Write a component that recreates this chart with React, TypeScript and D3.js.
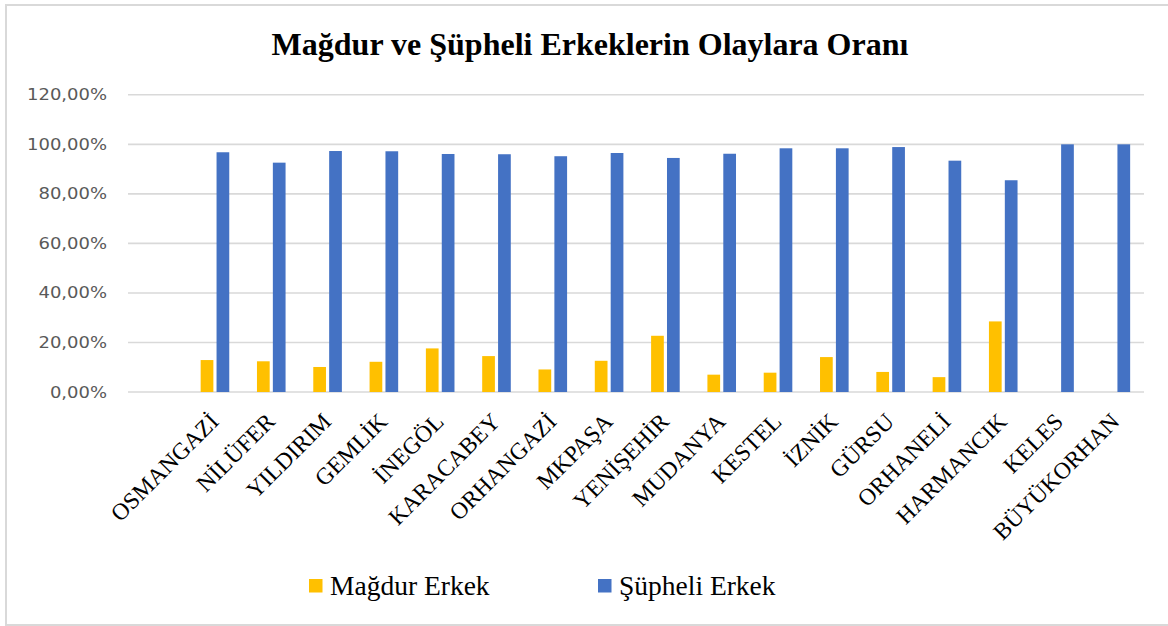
import React, { useEffect, useRef } from "react";
import * as d3 from "d3";

const categories = ["OSMANGAZİ", "NİLÜFER", "YILDIRIM", "GEMLİK", "İNEGÖL", "KARACABEY", "ORHANGAZİ", "MKPAŞA", "YENİŞEHİR", "MUDANYA", "KESTEL", "İZNİK", "GÜRSU", "ORHANELİ", "HARMANCIK", "KELES", "BÜYÜKORHAN"];
const magdurErkek = [12.9, 12.4, 10.1, 12.2, 17.6, 14.5, 9.1, 12.6, 22.7, 7.0, 7.8, 14.1, 8.1, 6.0, 28.5, 0, 0];
const supheliErkek = [96.8, 92.6, 97.3, 97.2, 96.1, 96.0, 95.2, 96.5, 94.5, 96.2, 98.4, 98.4, 98.9, 93.4, 85.5, 100, 100];
const yTicks = [0, 20, 40, 60, 80, 100, 120];
const seriesNames = ["Mağdur Erkek", "Şüpheli Erkek"];
const seriesColors = ["#FFC000", "#4472C4"];
const title = "Mağdur ve Şüpheli Erkeklerin Olaylara Oranı";

export default function App() {
  const ref = useRef<SVGSVGElement>(null);
  useEffect(() => {
    document.body.style.margin = "0";
    const svg = d3.select(ref.current);
    svg.selectAll("*").remove();

    const x = d3.scaleBand<string>().domain(["", ...categories]).range([130.5, 1144]).padding(0);
    const xs = d3.scaleBand<string>().domain(["m", "s"]).range([0, 28.6]).paddingInner(0.2).paddingOuter(0);
    const y = d3.scaleLinear().domain([0, 120]).range([392, 94.8]);

    svg.append("rect").attr("x", 0).attr("y", 0).attr("width", 1168).attr("height", 626).attr("fill", "#fff");
    svg.append("rect").attr("x", 6).attr("y", 5).attr("width", 1175).attr("height", 620)
      .attr("fill", "none").attr("stroke", "#d9d9d9").attr("stroke-width", 2);

    svg.append("text").attr("x", 590).attr("y", 55).attr("text-anchor", "middle")
      .attr("font-family", "Liberation Serif, Times New Roman, serif").attr("font-weight", "bold")
      .attr("font-size", 32).attr("fill", "#000").text(title);

    // gridlines
    svg.append("g").selectAll("line").data(yTicks).join("line")
      .attr("x1", 128).attr("x2", 1144)
      .attr("y1", d => y(d)).attr("y2", d => y(d))
      .attr("stroke", "#d9d9d9").attr("stroke-width", 1.6);

    // y labels
    svg.append("g").selectAll("text").data(yTicks).join("text")
      .attr("transform", d => `translate(107,${y(d) + 5.5}) scale(1.2,1)`)
      .attr("text-anchor", "end")
      .attr("font-family", "DejaVu Sans, sans-serif").attr("font-size", 15)
      .attr("fill", "#595959")
      .text(d => d3.format(".2f")(d).replace(".", ",") + "%");

    const groups = svg.append("g").selectAll("g").data(categories).join("g")
      .attr("transform", d => `translate(${(x(d) as number) + x.bandwidth() / 2 - 14.3},0)`);

    groups.append("rect")
      .attr("x", xs("m") as number).attr("width", xs.bandwidth())
      .attr("y", (_, i) => y(magdurErkek[i])).attr("height", (_, i) => y(0) - y(magdurErkek[i]))
      .attr("fill", seriesColors[0]);
    groups.append("rect")
      .attr("x", xs("s") as number).attr("width", xs.bandwidth())
      .attr("y", (_, i) => y(supheliErkek[i])).attr("height", (_, i) => y(0) - y(supheliErkek[i]))
      .attr("fill", seriesColors[1]);

    // x labels
    svg.append("g").selectAll("text").data(categories).join("text")
      .attr("transform", d => `translate(${(x(d) as number) + x.bandwidth() / 2 + 5},423) rotate(-45)`)
      .attr("text-anchor", "end")
      .attr("font-family", "Liberation Serif, Times New Roman, serif").attr("font-size", 23.5)
      .attr("fill", "#000")
      .text(d => d);

    // legend
    const legendX = [309, 598];
    const lg = svg.append("g").selectAll("g").data(seriesNames).join("g")
      .attr("transform", (_, i) => `translate(${legendX[i]},579)`);
    lg.append("rect").attr("width", 13.5).attr("height", 13.5).attr("fill", (_, i) => seriesColors[i]);
    lg.append("text").attr("x", 21).attr("y", 16).attr("font-family", "Liberation Serif, Times New Roman, serif")
      .attr("font-size", 27.5).attr("fill", "#000").text(d => d);
  }, []);
  return <svg ref={ref} width={1168} height={626} style={{ display: "block" }} />;
}
